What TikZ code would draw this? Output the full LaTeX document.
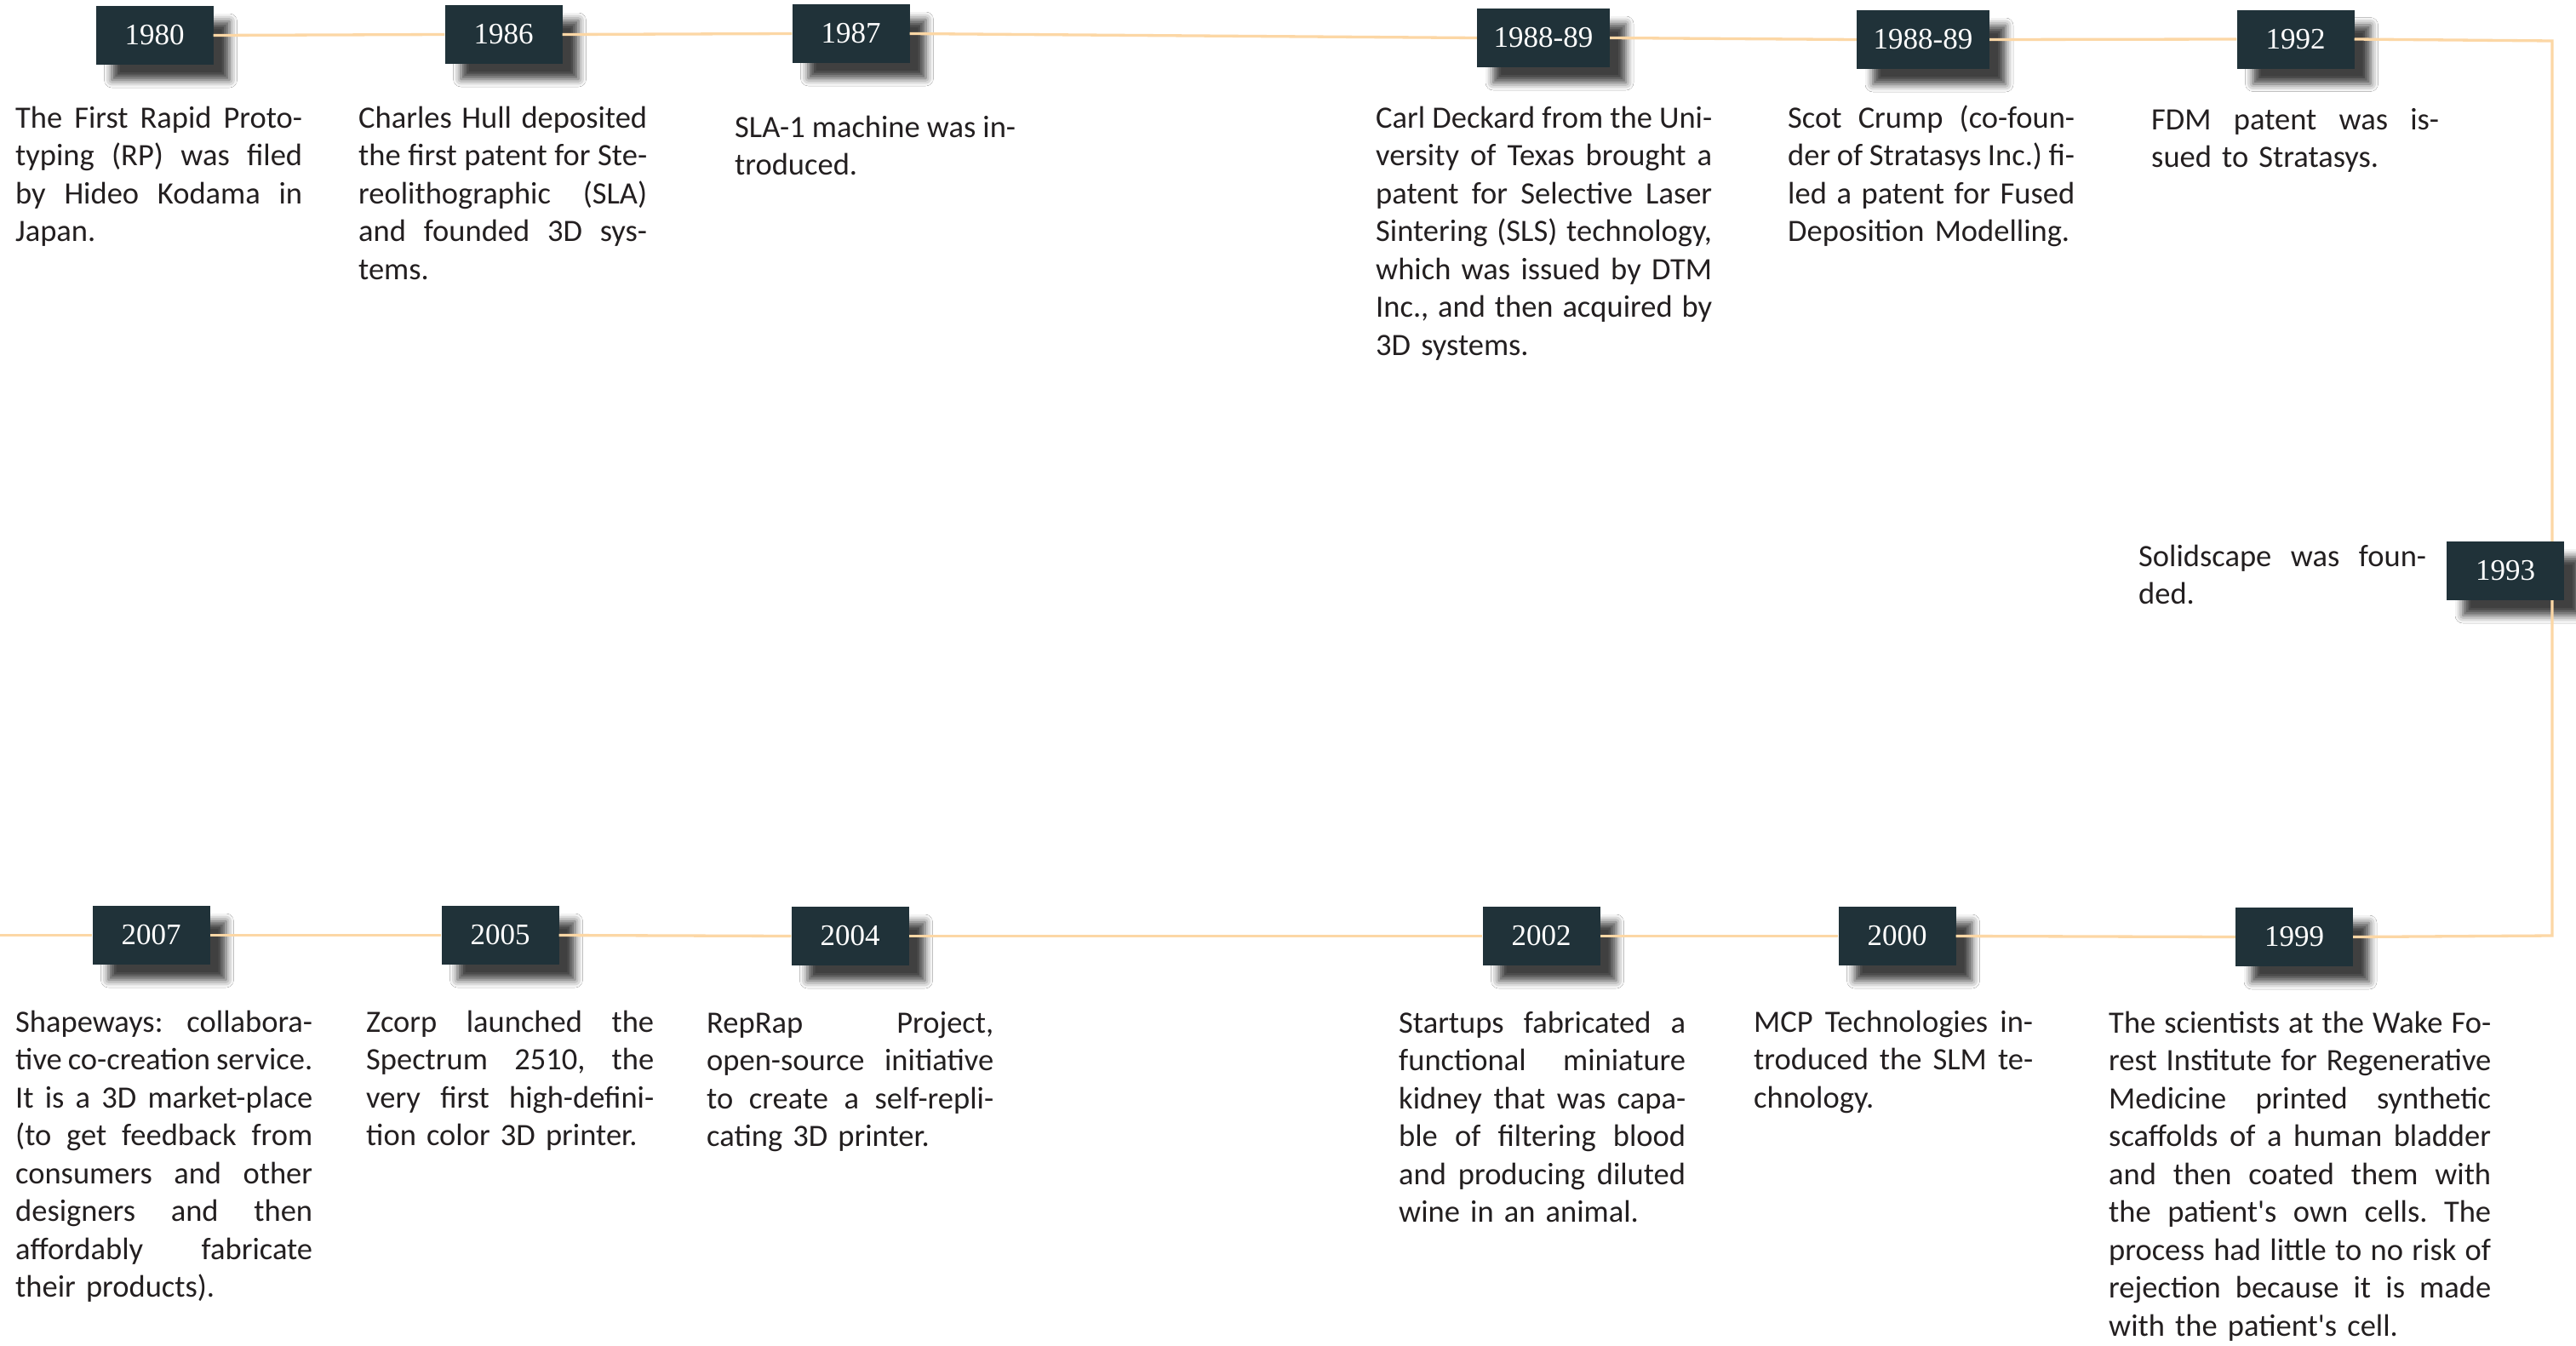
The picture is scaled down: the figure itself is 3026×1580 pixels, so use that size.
\documentclass[tikz,border=0pt]{standalone}
\usepackage{fontspec}
\setmainfont{Carlito}
\newfontfamily\yearfont{Liberation Serif}
\usetikzlibrary{shadows.blur}
\definecolor{boxc}{RGB}{32,50,57}
\definecolor{linec}{RGB}{252,215,165}
\definecolor{txtc}{RGB}{35,31,32}
\frenchspacing
\newlength\colw
\newcommand\jl[1]{\leavevmode\hbox to \colw{\spaceskip=0.226em plus 1fil minus 0.06em\relax\xspaceskip=\spaceskip #1}}
\newcommand\apo{\textquotesingle}
\tikzset{
  yearbox/.style={fill=boxc, text=white, minimum width=138pt, minimum height=69pt,
    inner sep=0pt, font=\yearfont\fontsize{35}{40}\selectfont,
    blur shadow={shadow xshift=19pt, shadow yshift=-18pt, shadow blur radius=9pt, shadow opacity=75}},
  widebox/.style={minimum width=156pt},
  desc/.style={anchor=north west, inner sep=0pt, align=left, text=txtc,
    text width=#1, execute at begin node={\setlength\colw{#1}},
    font=\fontsize{36.5}{44.5}\selectfont},
  tl/.style={draw=linec, line width=3.3pt}
}
\begin{document}
\begin{tikzpicture}[x=1pt,y=-1pt]
\fill[white] (0,0) rectangle (3026,1580);
\useasboundingbox (0,0) rectangle (3026,1580);

% year boxes
\node[yearbox] (y1980) at (181.5,41.5) {1980};
\node[yearbox] (y1986) at (591.5,40.5) {1986};
\node[yearbox] (y1987) at (999.5,39.5) {1987};
\node[yearbox,widebox] (y1988a) at (1813,44.5) {1988-89};
\node[yearbox,widebox] (y1988b) at (2259,46.5) {1988-89};
\node[yearbox] (y1992) at (2696.5,46) {1992};
\node[yearbox] (y1993) at (2943,670.5) {1993};
\node[yearbox] (y1999) at (2695,1100.5) {1999};
\node[yearbox] (y2000) at (2228.5,1099.5) {2000};
\node[yearbox] (y2002) at (1810.5,1099.5) {2002};
\node[yearbox] (y2004) at (998.5,1099.5) {2004};
\node[yearbox] (y2005) at (587.5,1098.5) {2005};
\node[yearbox] (y2007) at (177.5,1098.5) {2007};

% timeline
\coordinate (tr) at (2998,48);
\coordinate (br) at (2998,1099);
\coordinate (lend) at (0,1098.5);
\draw[tl] (y1980.east) -- (y1986.west);
\draw[tl] (y1986.east) -- (y1987.west);
\draw[tl] (y1987.east) -- (y1988a.west);
\draw[tl] (y1988a.east) -- (y1988b.west);
\draw[tl] (y1988b.east) -- (y1992.west);
\draw[tl] (y1992.east) -- (tr) -- (tr |- y1993.north);
\draw[tl] (tr |- y1993.south) -- (br) -- (y1999.east);
\draw[tl] (y1999.west) -- (y2000.east);
\draw[tl] (y2000.west) -- (y2002.east);
\draw[tl] (y2002.west) -- (y2004.east);
\draw[tl] (y2004.west) -- (y2005.east);
\draw[tl] (y2005.west) -- (y2007.east);
\draw[tl] (y2007.west) -- (lend);

% descriptions (top row)
\node[desc=337pt] (d1980) at (18,118.85)
  {\strut\jl{The First Rapid Proto-}\\ \jl{typing (RP) was filed}\\ \jl{by Hideo Kodama in}\\ Japan.};
\node[desc=339pt] (d1986) at (421,118.85)
  {\strut\jl{Charles Hull deposited}\\ \jl{the first patent for Ste-}\\ \jl{reolithographic (SLA)}\\ \jl{and founded 3D sys-}\\ tems.};
\node[desc=330pt] (d1987) at (863,129.85)
  {\strut\jl{SLA-1 machine was in-}\\ troduced.};
\node[desc=395pt] (d1988a) at (1616,118.85)
  {\strut\jl{Carl Deckard from the Uni-}\\ \jl{versity of Texas brought a}\\ \jl{patent for Selective Laser}\\ \jl{Sintering (SLS) technology,}\\ \jl{which was issued by DTM}\\ \jl{Inc., and then acquired by}\\ 3D systems.};
\node[desc=337pt] (d1988b) at (2100,118.85)
  {\strut\jl{Scot Crump (co-foun-}\\ \jl{der of Stratasys Inc.) fi-}\\ \jl{led a patent for Fused}\\ Deposition Modelling.};
\node[desc=338pt] (d1992) at (2527,120.85)
  {\strut\jl{FDM patent was is-}\\ sued to Stratasys.};
\node[desc=338pt] (d1993) at (2512,633.85)
  {\strut\jl{Solidscape was foun-}\\ ded.};

% descriptions (bottom row)
\node[desc=449pt] (d1999) at (2477,1181.85)
  {\strut\jl{The scientists at the Wake Fo-}\\ \jl{rest Institute for Regenerative}\\ \jl{Medicine printed synthetic}\\ \jl{scaffolds of a human bladder}\\ \jl{and then coated them with}\\ \jl{the patient\apo s own cells. The}\\ \jl{process had little to no risk of}\\ \jl{rejection because it is made}\\ with the patient\apo s cell.};
\node[desc=328pt] (d2000) at (2060,1180.85)
  {\strut\jl{MCP Technologies in-}\\ \jl{troduced the SLM te-}\\ chnology.};
\node[desc=337pt] (d2002) at (1643,1181.85)
  {\strut\jl{Startups fabricated a}\\ \jl{functional miniature}\\ \jl{kidney that was capa-}\\ \jl{ble of filtering blood}\\ \jl{and producing diluted}\\ wine in an animal.};
\node[desc=337pt] (d2004) at (830,1181.85)
  {\strut\jl{RepRap Project,}\\ \jl{open-source initiative}\\ \jl{to create a self-repli-}\\ cating 3D printer.};
\node[desc=338pt] (d2005) at (430,1180.85)
  {\strut\jl{Zcorp launched the}\\ \jl{Spectrum 2510, the}\\ \jl{very first high-defini-}\\ tion color 3D printer.};
\node[desc=349pt] (d2007) at (18,1180.85)
  {\strut\jl{Shapeways: collabora-}\\ \jl{tive co-creation service.}\\ \jl{It is a 3D market-place}\\ \jl{(to get feedback from}\\ \jl{consumers and other}\\ \jl{designers and then}\\ \jl{affordably fabricate}\\ their products).};
\end{tikzpicture}
\end{document}
